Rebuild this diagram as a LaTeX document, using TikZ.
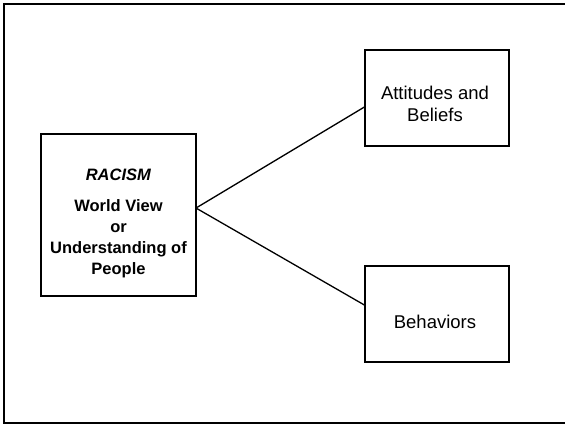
\documentclass[tikz,border=0pt]{standalone}
\usepackage{fontspec}
\setmainfont{Liberation Sans}
\usetikzlibrary{calc}
\tikzset{
  box/.style={draw=black, line width=1.6pt, minimum width=#1, inner sep=0pt, outer sep=0pt},
  lbl/.style={align=center, inner sep=0pt, font=\fontsize{18.5}{22}\selectfont},
  blbl/.style={align=center, inner sep=0pt, font=\fontsize{16.5}{21}\selectfont\bfseries},
  conn/.style={draw=black, line width=1.3pt}
}
\begin{document}
\begin{tikzpicture}[x=1pt,y=-1pt]
\useasboundingbox (0,0) rectangle (565,424);
\begin{scope}
\clip (0,0) rectangle (565,424);
\draw[line width=2pt] (580,3.7) -- (3.7,3.7) -- (3.7,423) -- (580,423);
\end{scope}
\node[box=155pt, minimum height=162pt] (racism) at (118.5,215) {};
\node[box=144pt, minimum height=96pt] (att) at (437,98) {};
\node[box=144pt, minimum height=96pt] (beh) at (437,314) {};
\node[blbl] (racismtxt) at (118.5,223) {\textit{RACISM}\\[10pt]World View\\or\\Understanding of\\People};
\node[lbl] (atttxt) at (435,104) {Attitudes and\\Beliefs};
\node[lbl] (behtxt) at (435,322) {Behaviors};
\coordinate (r) at ($(racism.north east)!0.457!(racism.south east)$);
\coordinate (a) at ($(att.north west)!0.59!(att.south west)$);
\coordinate (b) at ($(beh.north west)!0.41!(beh.south west)$);
\draw[conn] (r) -- (a);
\draw[conn] (r) -- (b);
\end{tikzpicture}
\end{document}
